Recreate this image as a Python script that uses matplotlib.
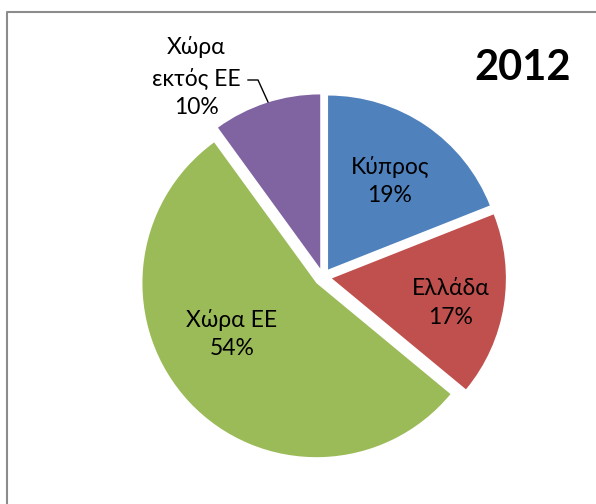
import matplotlib
matplotlib.use('Agg')
import matplotlib.pyplot as plt

plt.rcParams['font.family'] = ['Lato', 'DejaVu Sans']

labels = ['Κύπρος', 'Ελλάδα', 'Χώρα ΕΕ', 'Χώρα\nεκτός ΕΕ']
shares = [19, 17, 54, 10]
colors = ['#4F81BD', '#C0504D', '#9BBB59', '#8064A2']
year = '2012'

W, H = 596, 504
fig = plt.figure(figsize=(W / 100., H / 100.), dpi=100)
ax = fig.add_axes([0, 0, 1, 1])

cx, cy, r = 323, H - 277, 174
wedges, _ = ax.pie(shares, colors=colors, startangle=90, counterclock=False,
                   center=(cx, cy), radius=r, explode=[9] * len(shares),
                   wedgeprops=dict(linewidth=0), frame=True)
ax.set_xlim(0, W)
ax.set_ylim(0, H)
ax.axis('off')

fs = 16.5
# labels inside slices
inside = {0: (390, 181), 1: (451, 303), 2: (232, 334)}
for i, (x, y) in inside.items():
    ax.text(x, H - y, '%s\n%d%%' % (labels[i], shares[i]), ha='center', va='center',
            fontsize=fs, linespacing=1.45)

# outside label with leader line
ax.text(196, H - 77, '%s\n%d%%' % (labels[3], shares[3]), ha='center', va='center',
        fontsize=fs, linespacing=1.5)
ax.plot([248, 258, 268], [H - 80, H - 80, H - 102], color='black', lw=1)

ax.text(523, H - 68, year, ha='center', va='center', fontsize=30, fontweight='bold')

# chart frame (left and top edges visible)
ax.plot([7, 7, W], [0, H - 12, H - 12], color='#8c8c8c', lw=1.5, solid_capstyle='butt')

fig.savefig('out.png', dpi=100)
